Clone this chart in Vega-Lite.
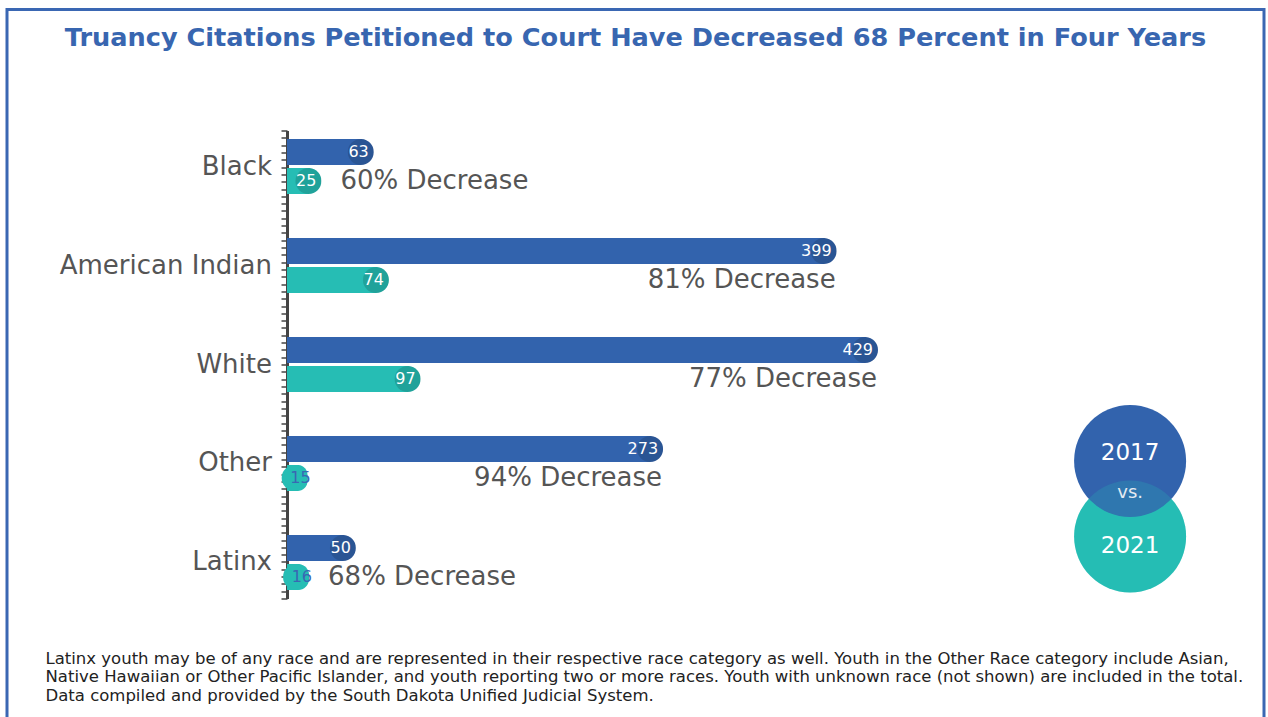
{
  "$schema": "https://vega.github.io/schema/vega-lite/v6.json",
  "width": 1257,
  "height": 717.5,
  "autosize": {"type": "none"},
  "padding": {"left": 7, "top": 9.5, "right": 4, "bottom": -10},
  "background": "white",
  "config": {
    "view": {"stroke": "#3a67b3", "strokeWidth": 3},
    "font": "DejaVu Sans"
  },
  "title": {
    "text": "Truancy Citations Petitioned to Court Have Decreased 68 Percent in Four Years",
    "font": "DejaVu Sans",
    "fontSize": 25.6,
    "fontWeight": "bold",
    "color": "#3866b0",
    "anchor": "middle",
    "frame": "group",
    "baseline": "alphabetic",
    "offset": -62
  },
  "datasets": {
    "counts": [
      {"category": "Black", "year": 2017, "value": 63},
      {"category": "Black", "year": 2021, "value": 25},
      {"category": "American Indian", "year": 2017, "value": 399},
      {"category": "American Indian", "year": 2021, "value": 74},
      {"category": "White", "year": 2017, "value": 429},
      {"category": "White", "year": 2021, "value": 97},
      {"category": "Other", "year": 2017, "value": 273},
      {"category": "Other", "year": 2021, "value": 15},
      {"category": "Latinx", "year": 2017, "value": 50},
      {"category": "Latinx", "year": 2021, "value": 16}
    ],
    "notes": [
      {"category": "Black", "note": "60% Decrease"},
      {"category": "American Indian", "note": "81% Decrease"},
      {"category": "White", "note": "77% Decrease"},
      {"category": "Other", "note": "94% Decrease"},
      {"category": "Latinx", "note": "68% Decrease"}
    ],
    "legend": [
      {"year": 2017, "label": "2017"},
      {"year": 2021, "label": "2021"}
    ]
  },
  "layer": [
    {
      "data": {"name": "counts"},
      "layer": [
        {
          "mark": {"type": "bar", "cornerRadiusEnd": 13},
          "encoding": {
            "y": {
              "field": "category", "type": "nominal",
              "sort": ["Black", "American Indian", "White", "Other", "Latinx"],
              "scale": {"range": [121, 589], "paddingInner": 0.444, "paddingOuter": 0.0857},
              "axis": null
            },
            "yOffset": {"field": "year", "type": "nominal", "scale": {"paddingInner": 0.1}},
            "x": {
              "field": "value", "type": "quantitative",
              "scale": {"domain": [0, 429], "range": [280, 871], "nice": false, "zero": true},
              "axis": {
                "domain": false, "ticks": false, "labels": false, "grid": false,
                "title": [
                  "Latinx youth may be of any race and are represented in their respective race category as well. Youth in the Other Race category include Asian,",
                  "Native Hawaiian or Other Pacific Islander, and youth reporting two or more races. Youth with unknown race (not shown) are included in the total.",
                  "Data compiled and provided by the South Dakota Unified Judicial System."
                ],
                "titleAnchor": "start", "titleAlign": "left", "titleBaseline": "alphabetic",
                "titleX": 38, "titleY": -64,
                "titleFont": "DejaVu Sans", "titleFontSize": 16.5, "titleFontWeight": "normal",
                "titleColor": "#222222", "titleLineHeight": 18.5
              }
            },
            "color": {
              "field": "year", "type": "nominal",
              "scale": {"domain": [2017, 2021], "range": ["#3263ad", "#26bdb4"]},
              "legend": null
            }
          }
        },
        {
          "transform": [{"filter": "datum.value >= 20"}],
          "mark": {"type": "circle", "size": 676, "color": "black", "opacity": 0.14, "xOffset": -13},
          "encoding": {
            "y": {"field": "category", "type": "nominal", "sort": ["Black", "American Indian", "White", "Other", "Latinx"], "axis": null},
            "yOffset": {"field": "year", "type": "nominal"},
            "x": {"field": "value", "type": "quantitative"}
          }
        },
        {
          "transform": [{"filter": "datum.value < 20"}],
          "mark": {"type": "circle", "size": 676, "color": "#26bdb4", "opacity": 1, "xOffset": -13},
          "encoding": {
            "y": {"field": "category", "type": "nominal", "sort": ["Black", "American Indian", "White", "Other", "Latinx"], "axis": null},
            "yOffset": {"field": "year", "type": "nominal"},
            "x": {"field": "value", "type": "quantitative"}
          }
        },
        {
          "transform": [{"filter": "datum.value >= 20"}],
          "mark": {"type": "text", "align": "right", "baseline": "middle", "dx": -5, "fontSize": 16, "color": "white"},
          "encoding": {
            "y": {"field": "category", "type": "nominal", "sort": ["Black", "American Indian", "White", "Other", "Latinx"], "axis": null},
            "yOffset": {"field": "year", "type": "nominal"},
            "x": {"field": "value", "type": "quantitative"},
            "text": {"field": "value", "type": "quantitative"}
          }
        },
        {
          "transform": [{"filter": "datum.value < 20"}],
          "mark": {"type": "text", "align": "right", "baseline": "middle", "dx": 3, "fontSize": 16, "color": "#3a67b3"},
          "encoding": {
            "y": {"field": "category", "type": "nominal", "sort": ["Black", "American Indian", "White", "Other", "Latinx"], "axis": null},
            "yOffset": {"field": "year", "type": "nominal"},
            "x": {"field": "value", "type": "quantitative"},
            "text": {"field": "value", "type": "quantitative"}
          }
        },
        {
          "transform": [{"filter": "datum.year == 2017"}],
          "mark": {"type": "text", "align": "right", "baseline": "middle", "dx": -15, "fontSize": 26, "color": "#555555"},
          "encoding": {
            "y": {"field": "category", "type": "nominal", "sort": ["Black", "American Indian", "White", "Other", "Latinx"], "axis": null},
            "x": {"datum": 0, "type": "quantitative"},
            "text": {"field": "category", "type": "nominal"}
          }
        },
        {
          "transform": [
            {"pivot": "year", "value": "value", "groupby": ["category"]},
            {"lookup": "category", "from": {"data": {"name": "notes"}, "key": "category", "fields": ["note"]}},
            {"filter": "datum['2017'] >= 100"}
          ],
          "mark": {"type": "text", "align": "right", "baseline": "middle", "dx": -1, "fontSize": 26, "color": "#555555"},
          "encoding": {
            "y": {"field": "category", "type": "nominal", "sort": ["Black", "American Indian", "White", "Other", "Latinx"], "axis": null},
            "yOffset": {"datum": 2021, "type": "nominal"},
            "x": {"field": "2017", "type": "quantitative"},
            "text": {"field": "note", "type": "nominal"}
          }
        },
        {
          "transform": [
            {"pivot": "year", "value": "value", "groupby": ["category"]},
            {"lookup": "category", "from": {"data": {"name": "notes"}, "key": "category", "fields": ["note"]}},
            {"filter": "datum['2017'] < 100"}
          ],
          "mark": {"type": "text", "align": "left", "baseline": "middle", "dx": 19, "fontSize": 26, "color": "#555555"},
          "encoding": {
            "y": {"field": "category", "type": "nominal", "sort": ["Black", "American Indian", "White", "Other", "Latinx"], "axis": null},
            "yOffset": {"datum": 2021, "type": "nominal"},
            "x": {"field": "2021", "type": "quantitative"},
            "text": {"field": "note", "type": "nominal"}
          }
        }
      ]
    },
    {
      "data": {"values": [{}]},
      "mark": {"type": "rule", "opacity": 0},
      "encoding": {
        "y": {
          "datum": 0, "type": "quantitative",
          "scale": {"domain": [0, 64], "range": [121, 589], "nice": false, "zero": false},
          "axis": {
            "orient": "left", "offset": -280,
            "domain": true, "domainColor": "#444444", "domainWidth": 3,
            "ticks": true, "tickColor": "#444444", "tickWidth": 1.5, "tickSize": 6, "tickCount": 64,
            "labels": false, "grid": false, "title": null
          }
        }
      }
    },
    {
      "data": {"name": "legend"},
      "layer": [
        {
          "transform": [{"filter": "datum.year == 2021"}],
          "mark": {"type": "circle", "size": 12544, "opacity": 1},
          "encoding": {
            "y": {"field": "year", "type": "quantitative", "scale": {"domain": [2017, 2021], "range": [451.5, 527], "nice": false, "zero": false}, "axis": null},
            "x": {"datum": 612, "type": "quantitative"},
            "color": {"field": "year", "type": "nominal", "legend": null}
          }
        },
        {
          "transform": [{"filter": "datum.year == 2017"}],
          "mark": {"type": "circle", "size": 12544, "opacity": 1},
          "encoding": {
            "y": {"field": "year", "type": "quantitative", "axis": null},
            "x": {"datum": 612, "type": "quantitative"},
            "color": {"field": "year", "type": "nominal", "legend": null}
          }
        },
        {
          "transform": [{"filter": "datum.year == 2021"}],
          "mark": {"type": "circle", "size": 12544, "opacity": 0.22},
          "encoding": {
            "y": {"field": "year", "type": "quantitative", "axis": null},
            "x": {"datum": 612, "type": "quantitative"},
            "color": {"field": "year", "type": "nominal", "legend": null}
          }
        },
        {
          "transform": [{"filter": "datum.year == 2017"}],
          "mark": {"type": "text", "align": "center", "baseline": "middle", "dy": -8, "fontSize": 23, "color": "white"},
          "encoding": {
            "y": {"field": "year", "type": "quantitative", "axis": null},
            "x": {"datum": 612, "type": "quantitative"},
            "text": {"field": "label", "type": "nominal"}
          }
        },
        {
          "transform": [{"filter": "datum.year == 2021"}],
          "mark": {"type": "text", "align": "center", "baseline": "middle", "dy": 9, "fontSize": 23, "color": "white"},
          "encoding": {
            "y": {"field": "year", "type": "quantitative", "axis": null},
            "x": {"datum": 612, "type": "quantitative"},
            "text": {"field": "label", "type": "nominal"}
          }
        },
        {
          "data": {"values": [{"t": "vs."}]},
          "mark": {"type": "text", "align": "center", "baseline": "middle", "dy": -6, "fontSize": 18, "color": "#e4ebf2"},
          "encoding": {
            "y": {"datum": 2019, "type": "quantitative", "axis": null},
            "x": {"datum": 612, "type": "quantitative"},
            "text": {"field": "t", "type": "nominal"}
          }
        }
      ]
    }
  ],
  "resolve": {"scale": {"y": "independent"}, "axis": {"y": "independent"}}
}
